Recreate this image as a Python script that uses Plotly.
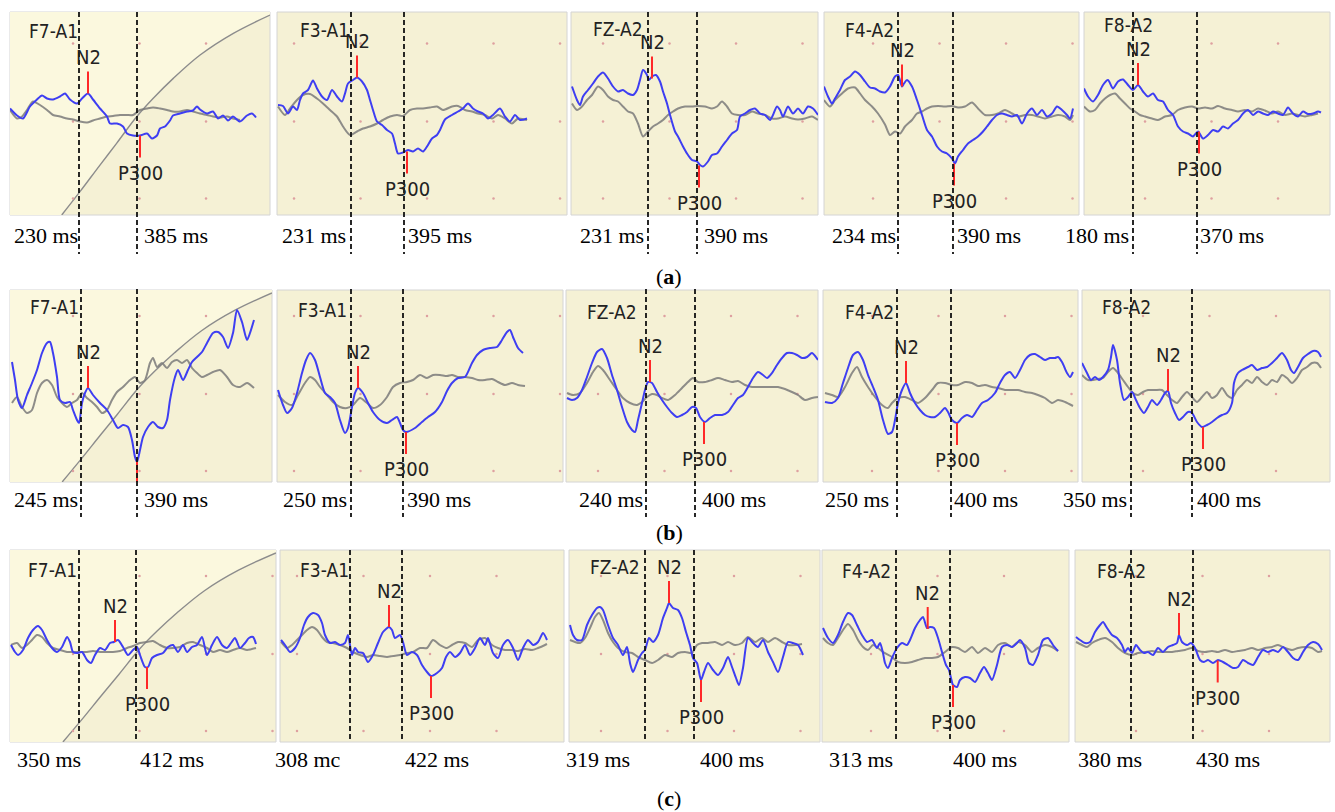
import plotly.graph_objects as go

# ---------------- DATA ----------------
channels = ["F7-A1", "F3-A1", "FZ-A2", "F4-A2", "F8-A2"]
row_tags = ["a", "b", "c"]

# waveforms: (sample time in panel units, amplitude)
a1_blue = [(0,5),(7,-2),(13,-5),(20,7),(27,14),(32,18),(37,15),(43,14),(50,17),(55,20),(60,14),(67,10),(72,15),(78,20),(83,14),(90,5),(97,-3),(100,-10),(107,-10),(113,-13),(117,-20),(123,-22),(130,-22),(137,-20),(142,-25),(147,-22),(150,-15),(155,-13),(160,-7),(163,-2),(170,0),(177,2),(183,3),(187,7),(190,4),(197,0),(203,2),(208,-5),(213,-2),(218,-7),(223,-3),(230,-8),(237,-2),(242,0),(246,-4)]
a1_gray = [(0,3.5),(7,-5),(12,-3),(17,3.5),(23,12),(30,8.5),(37,3.5),(43,-1.5),(50,-3),(57,-5),(63,-6),(70,-8),(77,-9),(83,-7),(90,-5),(97,-3),(103,-2.5),(110,-1.5),(117,-1.5),(123,-1.5),(130,3.5),(137,5),(143,6),(150,5),(157,3.5),(163,2),(170,2),(177,3.5),(183,2),(190,0),(197,-1.5),(203,-3),(210,-4),(217,-3),(223,-5),(230,-6.5)]
a2_blue = [(1,8.5),(6,7.5),(11,0),(16,7),(20,3.5),(23,13.5),(26,20),(31,23.5),(36,33),(40,25),(45,17),(50,13.5),(55,23.5),(60,17),(65,12),(68,20),(71,30),(76,33.5),(80,36),(85,32),(90,23.5),(93,13.5),(96,3.5),(100,-8),(105,-11.5),(110,-16.5),(115,-20),(118,-30),(121,-40),(126,-39),(131,-36.5),(136,-38),(141,-35),(146,-38),(150,-33),(155,-25),(160,-21.5),(163,-16.5),(168,-6),(175,-1.5),(181,2),(186,5),(191,10),(196,5),(201,2),(206,0),(211,-5),(216,-1.5),(223,5),(228,-3),(233,-8),(238,-1.5),(243,-6.5),(250,-5)]
a2_gray = [(1,7),(8,-1.5),(13,5),(20,13.5),(26,18.5),(33,19.5),(40,15),(46,10),(53,3.5),(60,-3),(66,-13),(73,-21.5),(80,-18),(86,-15),(93,-13),(100,-10),(106,-6.5),(113,-3),(120,-1.5),(126,-2.5),(133,3.5),(140,5),(146,5),(153,6),(160,7),(166,3.5),(175,7),(181,7.5),(188,3.5),(195,2),(201,0),(208,-1.5),(215,-5),(221,-1.5),(228,-5),(235,-10),(241,-5),(250,-6.5)]
a3_blue = [(1,27),(6,13.5),(9,8.5),(12,17),(17,23.5),(22,30),(27,37),(32,41),(37,35),(42,27),(47,22),(52,23.5),(57,20),(62,18.5),(66,23.5),(69,33.5),(72,43.5),(76,38.5),(78,33.5),(81,37),(85,38.5),(89,32),(92,22),(96,10),(99,-1.5),(104,-18),(107,-23),(112,-33),(116,-40),(121,-46.5),(126,-48),(129,-51.5),(132,-53),(137,-48),(141,-41.5),(146,-40),(151,-33),(156,-26.5),(161,-20),(166,-16.5),(169,-3),(174,0),(179,3.5),(184,5),(189,0),(194,-1.5),(199,-6.5),(202,-1.5),(206,7),(209,3.5),(212,-3),(217,7),(222,0),(227,5),(232,0),(237,7),(242,5),(247,-1.5)]
a3_gray = [(1,10),(6,3.5),(11,7),(16,13.5),(21,18.5),(27,27),(32,23.5),(37,17),(42,13.5),(47,12),(52,7),(57,2),(62,0),(67,-10),(72,-23),(77,-18),(82,-13),(87,-10),(92,-6.5),(97,-1.5),(102,2),(107,5),(114,7),(121,7),(127,7.5),(134,7),(141,5),(146,7),(151,12),(156,7),(161,0),(167,-1.5),(174,-1.5),(181,2),(187,0),(194,-1.5),(201,-5),(207,-5),(214,-3),(221,-5),(227,-6),(234,-5),(241,-3),(247,-6.5)]
a4_blue = [(0,27),(4,17),(8,10),(11,15),(16,23.5),(21,33.5),(26,37),(31,42),(36,38.5),(41,32),(46,26),(51,25),(56,22),(61,21),(66,27),(71,37),(74,38.5),(78,27),(80,30),(83,33.5),(88,27),(93,13.5),(98,-1.5),(103,-16.5),(108,-23),(113,-33),(118,-38),(123,-40),(128,-45),(131,-50),(134,-43),(139,-36.5),(144,-30),(149,-26.5),(154,-23),(159,-18),(163,-13),(168,-6.5),(173,-1.5),(178,0),(183,-1.5),(188,-3),(193,-1.5),(198,-10),(203,0),(208,5),(213,-1.5),(218,3.5),(223,-3),(228,0),(233,7),(238,3.5),(243,-1.5),(246,-5),(249,5)]
a4_gray = [(0,13.5),(6,7),(11,13.5),(18,20),(24,25),(31,26),(36,20),(41,13.5),(48,7),(54,0),(61,-11),(66,-21.5),(71,-18),(76,-20),(81,-13),(88,-6.5),(93,0),(98,2),(103,5),(108,7),(114,7.5),(121,7),(128,7.5),(134,6),(141,7),(148,11),(154,5),(161,-1.5),(168,-1.5),(174,0),(181,3.5),(188,0),(194,-3),(201,-1.5),(208,-1.5),(214,-3),(221,-5),(228,-3),(234,-1.5),(241,-3),(246,-6.5),(249,-1.5)]
a5_blue = [(0,25),(4,17),(9,12),(14,18.5),(19,28.5),(24,33.5),(29,25),(34,32),(39,34),(44,28.5),(49,23.5),(54,28.5),(59,22),(64,17),(69,20),(74,13.5),(79,12),(84,3.5),(89,-1.5),(94,-13),(99,-18),(104,-20),(109,-23),(114,-18),(119,-25),(124,-21.5),(129,-16.5),(134,-18),(139,-13),(144,-15),(149,-10),(154,-6.5),(159,0),(164,3.5),(169,-1.5),(174,2),(179,0),(184,-1.5),(189,2),(194,0),(199,-1.5),(204,6),(209,0),(214,-3),(219,2),(224,-0.5),(229,0),(234,2),(237,1)]
a5_gray = [(0,7),(6,2),(11,3.5),(16,10),(21,15),(26,18.5),(31,20),(36,15),(41,10),(46,5),(51,2),(56,-1.5),(61,-3),(68,-5),(74,-6.5),(81,-3),(88,-1.5),(94,3.5),(101,6),(108,7),(114,5),(121,6),(128,5),(134,7.5),(141,5),(148,3.5),(154,2),(161,3.5),(168,2),(174,5),(181,3),(188,0),(194,2),(201,-1.5),(208,0),(214,-1.5),(221,-3),(228,-1.5),(234,0)]

b1_blue = [(2,24),(5,6),(8,-14),(12,-22),(17,-9),(22,3),(27,16),(32,33),(37,43),(40,44),(43,33),(47,9),(50,-14),(55,-17),(60,-16),(63,-24),(67,-34),(69,-37),(72,-17),(75,-7),(78,-2),(83,-9),(90,-17),(97,-24),(103,-34),(108,-42),(113,-39),(118,-41),(122,-54),(125,-71),(127,-76),(130,-64),(133,-51),(138,-41),(143,-36),(148,-41),(153,-42),(157,-34),(160,-14),(165,9),(168,16),(173,6),(178,16),(182,24),(187,29),(192,34),(197,43),(203,53),(208,54),(213,49),(218,38),(223,53),(227,76),(232,64),(237,46),(240,53),(244,66)]
b1_gray = [(2,-17),(7,-11),(12,-21),(17,-27),(22,-24),(27,-7),(32,3),(37,6),(42,1),(47,-11),(52,-17),(57,-21),(62,-17),(67,-14),(72,-7),(77,-12),(82,-16),(87,-21),(92,-27),(97,-24),(102,-14),(107,-6),(113,-1),(120,6),(125,9),(130,3),(135,6),(140,23),(143,28),(147,19),(152,23),(157,18),(162,24),(167,26),(172,23),(177,26),(182,18),(187,13),(192,9),(197,11),(203,14),(210,16),(217,9),(223,1),(230,-1),(237,3),(244,-2)]
b2_blue = [(1,-4),(6,-19),(10,-27),(15,-22),(20,-7),(25,13),(29,26),(33,33),(38,26),(43,9),(48,-7),(53,-11),(58,-17),(63,-34),(68,-47),(71,-42),(75,-21),(78,-7),(81,-2),(86,-7),(91,-17),(96,-26),(103,-34),(110,-37),(115,-34),(120,-31),(123,-37),(126,-44),(129,-46),(138,-42),(145,-36),(151,-31),(158,-26),(165,-16),(170,-5),(175,3),(181,8),(188,9),(195,23),(200,31),(206,36),(213,38),(220,39),(225,46),(230,54),(233,56),(236,49),(241,38),(246,33)]
b2_gray = [(1,-9),(8,-16),(15,-19),(21,-9),(28,3),(33,9),(38,6),(43,-1),(50,-9),(56,-16),(63,-21),(70,-22),(76,-19),(83,-12),(90,-17),(96,-22),(103,-19),(110,-11),(116,-1),(123,3),(130,4),(136,6),(143,11),(150,8),(156,11),(163,11),(170,10),(175,11),(181,9),(188,9),(195,8),(201,6),(208,6),(215,7),(221,4),(228,1),(235,3),(241,1),(248,0)]
b3_blue = [(1,-12),(6,-14),(11,-12),(16,-4),(21,9),(26,23),(31,34),(36,37),(41,28),(46,11),(51,-4),(56,-21),(61,-36),(66,-44),(69,-46),(72,-34),(76,-17),(79,-4),(82,4),(86,3),(91,-6),(96,-14),(101,-21),(106,-27),(111,-31),(116,-29),(121,-26),(126,-21),(130,-22),(134,-31),(139,-36),(144,-32),(149,-29),(156,-29),(162,-26),(167,-19),(172,-12),(177,-9),(182,-1),(187,8),(192,14),(197,11),(201,8),(206,13),(211,21),(216,28),(221,33),(226,33),(231,31),(236,28),(241,29),(246,33),(252,26)]
b3_gray = [(1,-7),(7,-9),(14,-7),(21,3),(27,14),(32,20),(37,16),(44,6),(51,-4),(57,-12),(64,-17),(71,-19),(76,-16),(81,-11),(86,-8),(91,-9),(96,-12),(102,-14),(109,-9),(116,-2),(122,4),(127,8),(132,4),(139,4),(146,6),(152,8),(159,6),(166,4),(172,5),(179,1),(186,-1),(192,-1),(199,-1),(206,-1),(212,-1),(219,-3),(226,-6),(232,-9),(239,-14),(246,-12),(252,-11)]
b4_blue = [(2,-16),(9,-17),(15,-12),(20,3),(25,18),(30,31),(35,34),(40,26),(45,11),(50,-1),(55,-14),(60,-34),(65,-48),(69,-46),(72,-34),(75,-17),(79,-4),(83,3),(87,-7),(92,-17),(97,-24),(102,-29),(107,-31),(112,-31),(117,-27),(122,-22),(125,-26),(129,-34),(134,-37),(139,-32),(144,-29),(149,-31),(154,-24),(159,-17),(165,-14),(172,-7),(177,3),(182,11),(187,14),(192,8),(197,16),(202,26),(207,31),(212,32),(217,29),(222,26),(227,28),(232,28),(235,29),(239,24),(244,13),(247,9),(250,14)]
b4_gray = [(2,-7),(9,-9),(15,-11),(22,-1),(29,13),(34,19),(39,9),(45,-1),(52,-11),(59,-19),(65,-22),(69,-17),(75,-12),(82,-11),(89,-14),(95,-17),(102,-12),(109,-4),(115,3),(122,3),(129,1),(135,1),(142,4),(149,3),(155,0),(162,1),(169,-1),(175,-2),(182,-4),(189,-4),(195,-4),(202,-6),(209,-7),(215,-9),(222,-12),(229,-17),(235,-14),(242,-16),(250,-20)]
b5_blue = [(0,23),(5,13),(9,6),(13,9),(17,6),(21,9),(26,16),(29,29),(31,41),(35,26),(38,3),(42,-14),(46,-11),(50,-6),(54,-14),(58,-22),(62,-27),(66,-21),(70,-14),(75,-19),(79,-14),(83,-7),(86,-5),(89,-17),(93,-27),(97,-34),(101,-31),(106,-26),(110,-27),(115,-36),(120,-41),(125,-39),(130,-36),(135,-32),(140,-29),(145,-27),(150,-17),(152,3),(156,13),(160,16),(166,19),(170,21),(175,16),(180,18),(185,19),(190,23),(195,28),(200,33),(205,26),(209,16),(212,13),(216,19),(221,28),(226,32),(231,35),(236,34),(239,29)]
b5_gray = [(0,11),(6,6),(11,6),(16,7),(21,8),(26,14),(31,18),(36,13),(41,6),(46,-1),(51,-7),(56,-9),(61,-6),(66,-4),(73,-4),(80,-4),(85,-9),(90,-14),(95,-17),(100,-11),(105,-6),(110,-11),(115,-16),(120,-11),(125,-6),(130,-12),(135,-9),(140,-2),(145,-9),(150,-12),(155,-4),(160,1),(165,6),(170,3),(175,9),(180,4),(185,1),(190,6),(195,4),(200,11),(205,8),(210,3),(215,8),(220,16),(225,19),(230,23),(235,23),(239,18)]

c1_blue = [(1,1),(5,-6),(8,-9),(13,-4),(18,8),(23,16),(28,20),(32,16),(37,6),(42,-2),(47,-6),(52,-1),(57,9),(60,4),(63,-6),(67,-7),(72,-6),(77,-14),(81,-17),(85,-9),(90,-2),(95,-4),(100,3),(104,4),(108,6),(113,-1),(118,-9),(123,-4),(127,-1),(130,-9),(135,-21),(138,-21),(142,-12),(147,-9),(153,-7),(158,-1),(163,1),(168,-6),(173,1),(177,-6),(182,-1),(187,1),(192,9),(197,-9),(202,1),(207,9),(212,1),(217,-2),(221,3),(225,8),(230,-2),(235,3),(239,8),(243,9),(246,2)]
c1_gray = [(1,1),(7,3),(12,-2),(17,1),(22,6),(27,11),(32,9),(37,3),(43,-2),(50,-4),(57,-6),(63,-6),(70,-6),(77,-6),(83,-5),(90,-6),(97,-6),(103,-6),(110,-5),(117,-2),(123,0),(130,3),(137,4),(143,5),(150,1),(157,-2),(163,-2),(170,-1),(177,3),(183,4),(190,1),(197,-2),(203,-6),(210,-4),(217,-6),(223,-4),(230,-2),(237,-4),(246,-2)]
c2_blue = [(1,6),(5,1),(10,-6),(15,-2),(20,8),(24,21),(28,29),(33,33),(38,31),(42,23),(45,11),(50,3),(55,4),(60,1),(65,3),(68,11),(72,-9),(75,-2),(78,-6),(83,-7),(88,-16),(93,-9),(98,3),(103,14),(109,19),(112,16),(115,8),(120,11),(123,4),(127,-9),(132,-6),(137,-9),(142,-19),(147,-26),(151,-30),(157,-27),(162,-22),(166,-11),(170,-6),(175,-11),(180,-7),(185,1),(190,-9),(195,-2),(200,8),(205,1),(208,8),(213,-7),(218,-12),(223,1),(228,6),(233,-2),(238,-14),(243,-2),(248,6),(253,1),(258,4),(263,13),(267,6)]
c2_gray = [(1,4),(7,-2),(12,1),(17,6),(22,11),(27,16),(32,19),(37,16),(42,9),(47,4),(53,3),(60,1),(67,-2),(73,-6),(80,-9),(87,-11),(93,-9),(100,-10),(107,-11),(113,-10),(120,-9),(127,-7),(133,-6),(140,-2),(147,-2),(153,6),(160,1),(167,-2),(172,1),(178,4),(185,3),(192,-1),(198,6),(205,8),(212,1),(218,-2),(225,-4),(232,-4),(238,-5),(245,-3),(252,-4),(258,-2),(265,1),(267,2)]
c3_blue = [(1,21),(4,11),(8,6),(13,6),(18,21),(23,31),(28,38),(31,39),(34,36),(39,21),(44,8),(49,1),(54,-9),(58,-1),(61,-17),(64,-26),(69,-14),(73,-7),(76,-4),(80,8),(84,4),(89,11),(94,28),(98,38),(100,43),(104,38),(109,36),(113,28),(117,14),(121,1),(124,-12),(128,-17),(132,-34),(135,-26),(139,-17),(144,-24),(149,-29),(154,-22),(159,-11),(163,-21),(167,-32),(170,-39),(174,-22),(179,8),(184,3),(189,-1),(194,6),(199,-6),(204,-16),(209,-26),(214,-11),(219,4),(224,3),(229,1),(234,-9)]
c3_gray = [(1,6),(6,4),(11,3),(16,8),(21,18),(26,29),(30,33),(34,26),(39,13),(44,4),(49,-2),(56,-6),(63,-7),(69,-11),(76,-14),(83,-17),(89,-14),(96,-9),(103,-11),(109,-7),(116,-6),(123,-7),(128,1),(133,3),(139,3),(146,4),(153,1),(159,4),(166,1),(173,3),(179,9),(186,4),(193,8),(199,4),(206,8),(213,4),(219,1),(226,1),(233,2)]
c4_blue = [(1,18),(6,8),(11,3),(16,11),(21,24),(26,33),(30,31),(35,21),(40,11),(45,4),(50,6),(55,-2),(58,3),(61,-7),(63,-17),(66,-22),(70,-12),(75,-2),(80,3),(85,1),(88,6),(93,18),(98,26),(101,29),(105,18),(108,19),(112,18),(116,8),(120,-6),(124,-19),(127,-24),(129,-32),(131,-39),(135,-41),(138,-34),(143,-31),(148,-32),(153,-36),(158,-27),(162,-21),(166,-27),(170,-34),(175,-19),(180,-1),(185,1),(190,-1),(195,3),(198,6),(203,-2),(207,-17),(211,-19),(216,-9),(221,6),(226,8),(231,1),(236,-5)]
c4_gray = [(1,8),(6,3),(11,1),(16,8),(21,16),(26,22),(31,16),(36,6),(41,-1),(46,-4),(51,1),(56,-2),(61,-6),(70,-11),(76,-16),(83,-17),(90,-16),(96,-14),(103,-12),(110,-12),(116,-11),(123,-6),(130,-1),(136,-2),(143,-6),(150,-1),(156,-7),(163,-2),(170,-6),(176,1),(183,3),(190,-1),(196,4),(203,1),(210,-6),(216,-2),(223,1),(230,-1),(236,-5)]
c5_blue = [(1,9),(5,6),(10,3),(15,4),(20,14),(25,21),(28,24),(32,18),(37,11),(42,8),(47,1),(50,-6),(53,-2),(57,-7),(61,1),(65,-4),(69,-7),(73,-6),(78,-9),(83,-2),(88,-6),(93,-1),(98,1),(102,3),(104,11),(107,4),(112,1),(116,3),(120,-2),(125,-14),(129,-16),(133,-14),(138,-17),(143,-14),(148,-16),(153,-19),(158,-22),(163,-21),(168,-14),(173,-17),(178,-19),(183,-11),(188,-4),(193,-6),(198,-4),(203,-6),(208,-1),(213,-6),(218,-12),(223,-14),(228,-6),(233,1),(238,4),(243,2),(247,-4)]
c5_gray = [(1,4),(7,1),(12,-1),(17,3),(23,6),(30,8),(37,4),(43,-2),(50,-7),(57,-9),(63,-7),(70,-6),(77,-5),(83,-6),(90,-6),(97,-6),(103,-5),(110,-4),(117,-2),(123,-5),(130,-6),(137,-5),(143,-6),(150,-4),(157,-6),(163,-5),(170,-4),(177,-2),(183,-4),(190,-2),(197,-1),(203,1),(210,-2),(217,-4),(223,-2),(230,-1),(237,-2),(243,-6),(247,-5)]

# N2 and P300 peaks (time, amplitude) per row
n2_peaks = {
    "a": [(78, 20), (80, 36), (81, 35), (78, 27), (54, 28.5)],
    "b": [(78, -2), (81, -2), (84, 4), (83, 3), (86, -5)],
    "c": [(105, 4), (109, 19), (100, 43), (105.7, 17), (104, 11)],
}
p300_peaks = {
    "a": [(130, -22), (130, -38), (128, -52), (130, -50), (115, -18)],
    "b": [(127, -76), (129, -46), (138, -36), (134, -37), (121, -41)],
    "c": [(137, -21), (151, -30), (132, -34), (131, -39), (142.7, -14.5)],
}
# marker lines (latency positions, panel units)
latency_lines = {
    "a": [(69, 127), (74, 127), (77, 126), (74, 129), (49, 113)],
    "b": [(71, 127), (74, 126), (80, 129), (74, 128), (49, 110)],
    "c": [(69, 126), (70, 122), (76, 125), (74, 128), (56, 118)],
}
latency_text = {
    "a": [("230 ms", "385 ms"), ("231 ms", "395 ms"), ("231 ms", "390 ms"), ("234 ms", "390 ms"), ("180 ms", "370 ms")],
    "b": [("245 ms", "390 ms"), ("250 ms", "390 ms"), ("240 ms", "400 ms"), ("250 ms", "400 ms"), ("350 ms", "400 ms")],
    "c": [("350 ms", "412 ms"), ("308 mc", "422 ms"), ("319 ms", "400 ms"), ("313 ms", "400 ms"), ("380 ms", "430 ms")],
}
# decorative analysis arc in the first column (fractions of panel width / depth)
arc_u = [0.199, 0.269, 0.346, 0.41, 0.487, 0.551, 0.628, 0.731, 0.859, 1.0]
arc_v = [1.0, 0.885, 0.754, 0.647, 0.516, 0.425, 0.327, 0.212, 0.105, 0.015]

blue_waves = {"a": [a1_blue, a2_blue, a3_blue, a4_blue, a5_blue],
              "b": [b1_blue, b2_blue, b3_blue, b4_blue, b5_blue],
              "c": [c1_blue, c2_blue, c3_blue, c4_blue, c5_blue]}
gray_waves = {"a": [a1_gray, a2_gray, a3_gray, a4_gray, a5_gray],
              "b": [b1_gray, b2_gray, b3_gray, b4_gray, b5_gray],
              "c": [c1_gray, c2_gray, c3_gray, c4_gray, c5_gray]}

# ---------------- LAYOUT ----------------
FW, FH = 1335, 812
frames = {  # left, top, right, bottom (px)
    "a": [(10, 12, 270, 215), (277, 12, 567, 215), (571, 12, 818, 215), (824, 12, 1079, 215), (1084, 12, 1330, 215)],
    "b": [(10, 290, 272, 482), (277, 290, 563, 482), (566, 290, 818, 482), (823, 290, 1078, 482), (1082, 290, 1330, 482)],
    "c": [(10, 550, 276, 742), (280, 550, 564, 742), (569, 550, 820, 742), (822, 550, 1069, 742), (1075, 550, 1330, 742)],
}
dash_span = {"a": (12, 254), "b": (289, 517), "c": (550, 742)}
time_label_x = {
    "a": [(12, 142), (280, 406), (578, 702), (830, 955), (1063, 1198)],
    "b": [(12, 142), (281, 405), (577, 700), (823, 952), (1061, 1195)],
    "c": [(15, 138), (273, 403), (564, 698), (827, 951), (1076, 1194)],
}
time_label_y = {"a": 236, "b": 499, "c": 759}
chan_label_pos = {
    "a": [(27, 31), (298, 30), (591, 29), (843, 30), (1102, 25)],
    "b": [(28, 307), (296, 310), (585, 312), (843, 312), (1100, 307)],
    "c": [(26, 570), (298, 570), (588, 567), (840, 571), (1095, 571)],
}
sub_label_y = {"a": 277, "b": 532, "c": 798}
dot_x0 = [63, 17, 32, 49, 61]
dot_amp = [70, -8, -85]

BG = "rgb(245,241,213)"
BG_LIGHT = "rgb(251,248,222)"
BLUE = "rgb(62,62,242)"
GRAY = "rgba(122,122,122,0.85)"
RED = "rgb(255,40,40)"
TICK = 22
SANS = "Liberation Sans Narrow, DejaVu Sans Condensed, Noto Sans, sans-serif"
SERIF = "Liberation Serif, DejaVu Serif, serif"


def px(x):
    return x / FW


def py(y):
    return 1 - y / FH


fig = go.Figure()
layout = dict(width=FW, height=FH, margin=dict(l=0, r=0, t=0, b=0),
              paper_bgcolor="white", plot_bgcolor="white", showlegend=False,
              autosize=False)
shapes, annotations = [], []

k = 0
for r, tag in enumerate(row_tags):
    for c in range(5):
        k += 1
        sx = "" if k == 1 else str(k)
        xa, ya = "x" + sx, "y" + sx
        L, T, R, B = frames[tag][c]
        W, H = R - L, B - T
        layout["xaxis" + sx] = dict(domain=[px(L), px(R)], range=[0, W], visible=False,
                                    fixedrange=True, anchor=ya)
        layout["yaxis" + sx] = dict(domain=[py(B), py(T)], range=[-H / 2, H / 2], visible=False,
                                    fixedrange=True, anchor=xa)
        shapes.append(dict(type="rect", xref=xa + " domain", yref=ya + " domain",
                           x0=0, x1=1, y0=0, y1=1, fillcolor=BG,
                           line=dict(color="rgb(212,212,212)", width=1), layer="below"))
        if c == 0:
            ax = [u * W for u in arc_u]
            ay = [H / 2 - v * H for v in arc_v]
            fig.add_trace(go.Scatter(x=[0, 0] + ax + [W], y=[H / 2, -H / 2] + ay + [H / 2],
                                     fill="toself", fillcolor=BG_LIGHT, mode="none",
                                     xaxis=xa, yaxis=ya, hoverinfo="skip"))
            fig.add_trace(go.Scatter(x=ax, y=ay, mode="lines", xaxis=xa, yaxis=ya,
                                     line=dict(color="rgb(140,140,140)", width=1.4, shape="spline"),
                                     hoverinfo="skip"))
        # grid dots
        gx, gy = [], []
        xx = dot_x0[c]
        while xx < W - 2:
            for a in dot_amp:
                gx.append(xx)
                gy.append(a)
            xx += 66.5
        fig.add_trace(go.Scatter(x=gx, y=gy, mode="markers", xaxis=xa, yaxis=ya,
                                 marker=dict(size=2.5, color="rgb(222,160,160)"), hoverinfo="skip"))
        # waves
        g = gray_waves[tag][c]
        fig.add_trace(go.Scatter(x=[p[0] for p in g], y=[p[1] for p in g], mode="lines",
                                 xaxis=xa, yaxis=ya, hoverinfo="skip",
                                 line=dict(color=GRAY, width=2, shape="spline", smoothing=0.7)))
        bw = blue_waves[tag][c]
        fig.add_trace(go.Scatter(x=[p[0] for p in bw], y=[p[1] for p in bw], mode="lines",
                                 xaxis=xa, yaxis=ya, hoverinfo="skip",
                                 line=dict(color=BLUE, width=2, shape="spline", smoothing=0.7)))
        # N2 / P300 ticks and labels
        nx, ny = n2_peaks[tag][c]
        qx, qy = p300_peaks[tag][c]
        fig.add_trace(go.Scatter(x=[nx, nx, None, qx, qx], y=[ny, ny + TICK, None, qy, qy - TICK],
                                 mode="lines", xaxis=xa, yaxis=ya, hoverinfo="skip",
                                 line=dict(color=RED, width=2), cliponaxis=False))
        annotations.append(dict(x=nx, y=ny + TICK, xref=xa, yref=ya, text="N2", showarrow=False,
                                xanchor="center", yanchor="bottom", yshift=0,
                                font=dict(family=SANS, size=20, color="#222")))
        if not (tag == "b" and c == 0):
            annotations.append(dict(x=qx, y=qy - TICK, xref=xa, yref=ya, text="P300", showarrow=False,
                                    xanchor="center", yanchor="top", yshift=-1,
                                    font=dict(family=SANS, size=20, color="#222")))
        # channel name
        cx, cy = chan_label_pos[tag][c]
        annotations.append(dict(x=px(cx), y=py(cy), xref="paper", yref="paper", text=channels[c],
                                showarrow=False, xanchor="left", yanchor="middle",
                                font=dict(family=SANS, size=19, color="#222")))
        # dashed latency lines
        y0, y1 = dash_span[tag]
        for lx in latency_lines[tag][c]:
            shapes.append(dict(type="line", xref=xa, yref="paper", x0=lx, x1=lx,
                               y0=py(y0), y1=py(y1), line=dict(color="#111", width=1.8, dash="5px,3px"),
                               layer="above"))
        # latency text
        for txt, lx in zip(latency_text[tag][c], time_label_x[tag][c]):
            annotations.append(dict(x=px(lx), y=py(time_label_y[tag]), xref="paper", yref="paper",
                                    text=txt, showarrow=False, xanchor="left", yanchor="middle",
                                    font=dict(family=SERIF, size=22, color="black")))
    annotations.append(dict(x=px(669), y=py(sub_label_y[tag]), xref="paper", yref="paper",
                            text="(<b>%s</b>)" % tag, showarrow=False, xanchor="center",
                            yanchor="middle", font=dict(family=SERIF, size=22, color="black")))

layout["shapes"] = shapes
layout["annotations"] = annotations
fig.update_layout(**layout)
for tr in fig.data:
    tr.showlegend = False
fig.write_html("out.html", config={"displayModeBar": False},
               post_script="document.body.style.margin='0';document.body.style.overflow='hidden';")
